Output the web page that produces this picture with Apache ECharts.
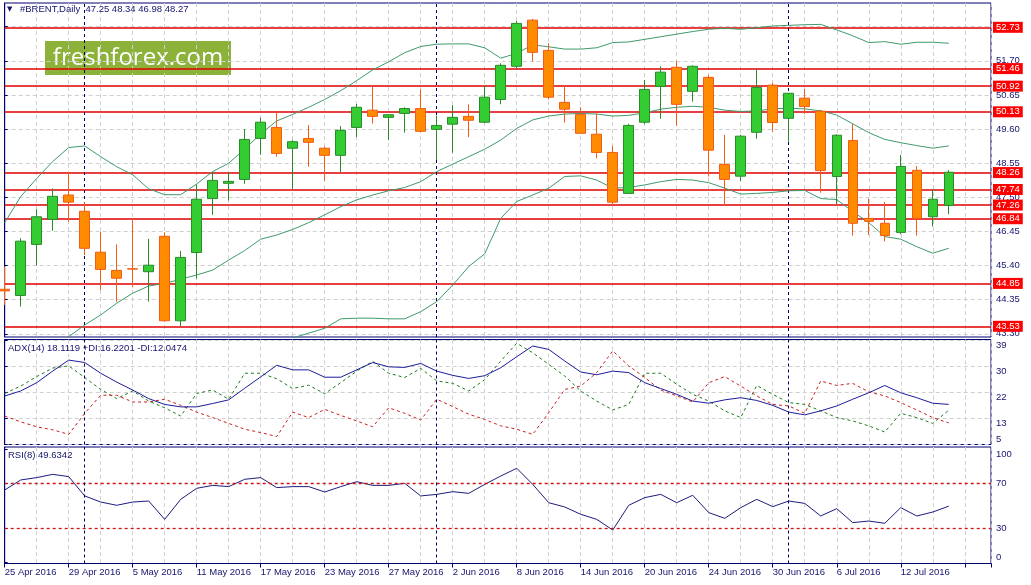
<!DOCTYPE html>
<html>
<head>
<meta charset="utf-8">
<title>#BRENT, Daily</title>
<script src="https://cdn.jsdelivr.net/npm/echarts@6/dist/echarts.min.js"></script>
<style>
  html, body { margin: 0; padding: 0; background: #fff; }
  #chart { width: 1031px; height: 585px; }
</style>
</head>
<body>
<div id="chart"></div>
<script>
// daily bars, 25 Apr - 15 Jul 2016
var dates = [
  '25 Apr 2016', '26 Apr 2016', '27 Apr 2016', '28 Apr 2016', '29 Apr 2016',
  '2 May 2016', '3 May 2016', '4 May 2016', '5 May 2016', '6 May 2016',
  '9 May 2016', '10 May 2016', '11 May 2016', '12 May 2016', '13 May 2016',
  '16 May 2016', '17 May 2016', '18 May 2016', '19 May 2016', '20 May 2016',
  '23 May 2016', '24 May 2016', '25 May 2016', '26 May 2016', '27 May 2016',
  '30 May 2016', '31 May 2016', '1 Jun 2016', '2 Jun 2016', '3 Jun 2016',
  '6 Jun 2016', '7 Jun 2016', '8 Jun 2016', '9 Jun 2016', '10 Jun 2016',
  '13 Jun 2016', '14 Jun 2016', '15 Jun 2016', '16 Jun 2016', '17 Jun 2016',
  '20 Jun 2016', '21 Jun 2016', '22 Jun 2016', '23 Jun 2016', '24 Jun 2016',
  '27 Jun 2016', '28 Jun 2016', '29 Jun 2016', '30 Jun 2016', '1 Jul 2016',
  '4 Jul 2016', '5 Jul 2016', '6 Jul 2016', '7 Jul 2016', '8 Jul 2016',
  '11 Jul 2016', '12 Jul 2016', '13 Jul 2016', '14 Jul 2016', '15 Jul 2016'
];

var opens = [
  44.67, 44.48, 46.05, 46.82, 47.57, 47.07, 45.81, 45.25, 45.30, 45.21,
  46.30, 43.70, 45.80, 47.46, 47.93, 48.05, 49.31, 49.65, 49.01, 49.31,
  49.01, 48.79, 49.65, 50.18, 49.96, 50.08, 50.23, 49.59, 49.75, 49.99,
  49.81, 50.51, 51.53, 52.95, 52.02, 50.42, 50.05, 49.44, 48.88, 47.62,
  49.81, 50.91, 51.50, 50.76, 51.19, 48.51, 48.15, 49.50, 50.95, 49.93,
  50.55, 50.15, 48.14, 49.25, 46.85, 46.70, 46.42, 48.33, 46.90, 47.25
];
var closes = [
  44.62, 46.15, 46.90, 47.53, 47.35, 45.93, 45.28, 45.01, 45.29, 45.41,
  43.70, 45.65, 47.44, 48.02, 47.99, 49.28, 49.81, 48.85, 49.21, 49.19,
  48.79, 49.56, 50.27, 49.99, 50.04, 50.23, 49.53, 49.71, 49.96, 49.87,
  50.58, 51.56, 52.85, 51.96, 50.58, 50.21, 49.47, 48.88, 47.35, 49.71,
  50.82, 51.35, 50.36, 51.53, 48.95, 48.05, 49.38, 50.88, 49.80, 50.70,
  50.29, 48.32, 49.41, 46.70, 46.76, 46.32, 48.45, 46.85, 47.44, 48.27
];
var lows = [
  44.19, 44.14, 45.40, 46.47, 46.75, 45.72, 44.65, 44.28, 44.73, 44.29,
  43.67, 43.54, 45.00, 46.96, 47.40, 47.92, 48.81, 48.75, 47.76, 48.44,
  48.01, 48.27, 49.35, 49.77, 49.26, 49.49, 49.50, 48.65, 48.87, 49.35,
  49.78, 50.36, 51.46, 51.67, 50.51, 49.80, 49.45, 48.70, 47.26, 47.60,
  49.75, 49.92, 49.70, 50.44, 48.14, 47.25, 48.00, 49.30, 49.52, 49.21,
  50.06, 47.64, 47.29, 46.32, 46.34, 46.14, 46.36, 46.32, 46.60, 46.98
];
var highs = [
  45.37, 46.24, 47.13, 47.77, 48.28, 47.34, 46.44, 46.05, 46.85, 46.22,
  46.42, 45.85, 47.90, 48.29, 48.27, 49.60, 49.95, 50.10, 49.26, 49.72,
  49.06, 49.69, 50.37, 50.90, 50.05, 50.27, 50.82, 50.01, 50.33, 50.36,
  50.92, 51.62, 52.92, 52.99, 52.24, 50.95, 50.27, 50.08, 49.08, 49.76,
  51.11, 51.53, 51.69, 51.56, 51.26, 49.42, 49.42, 51.43, 51.02, 50.71,
  50.83, 50.19, 49.44, 49.76, 47.46, 47.36, 48.80, 48.46, 47.75, 48.34
];

// Bollinger bands (upper / middle / lower) as drawn
var bbUpper = [
  46.72, 47.52, 48.08, 48.60, 49.03, 49.08, 48.75, 48.44, 48.19, 47.76,
  47.58, 47.58, 47.91, 48.29, 48.55, 48.98, 49.45, 49.85, 50.05, 50.27,
  50.51, 50.78, 51.09, 51.42, 51.67, 51.95, 52.14, 52.21, 52.22, 52.22,
  52.10, 51.78, 51.93, 52.19, 52.13, 52.06, 52.06, 52.10, 52.26, 52.28,
  52.36, 52.44, 52.52, 52.60, 52.67, 52.70, 52.67, 52.72, 52.77, 52.79,
  52.81, 52.82, 52.65, 52.47, 52.26, 52.29, 52.21, 52.27, 52.27, 52.24
];
var bbMiddle = [
  42.00, 42.35, 42.65, 42.95, 43.21, 43.57, 43.88, 44.24, 44.55, 44.77,
  44.85, 44.98, 45.11, 45.26, 45.57, 45.86, 46.21, 46.34, 46.51, 46.72,
  46.96, 47.21, 47.42, 47.57, 47.70, 47.80, 47.98, 48.29, 48.52, 48.75,
  48.98, 49.26, 49.62, 49.88, 50.00, 50.06, 50.08, 50.06, 50.00, 50.02,
  50.10, 50.21, 50.27, 50.30, 50.27, 50.18, 50.14, 50.16, 50.22, 50.24,
  50.22, 50.16, 50.03, 49.76, 49.49, 49.28, 49.18, 49.09, 49.01, 49.08
];
var bbLower = [
  37.40, 37.20, 37.20, 37.30, 37.40, 38.60, 39.00, 40.00, 40.90, 41.80,
  42.10, 42.40, 42.30, 42.25, 42.60, 42.75, 42.90, 43.00, 43.17, 43.32,
  43.47, 43.76, 43.78, 43.78, 43.76, 43.76, 43.98, 44.29, 44.80, 45.37,
  45.76, 46.85, 47.37, 47.57, 47.78, 48.14, 48.16, 48.03, 47.78, 47.80,
  47.88, 47.98, 48.05, 48.03, 47.95, 47.78, 47.60, 47.62, 47.65, 47.70,
  47.71, 47.46, 47.43, 47.06, 46.72, 46.29, 46.21, 45.98, 45.78, 45.93
];

// ADX(14)
var adx = [
  20.86, 22.5, 25.2, 29.0, 32.6, 31.8, 28.3, 25.4, 22.8, 20.0,
  18.1, 17.3, 17.3, 18.4, 19.6, 23.4, 27.1, 30.9, 29.4, 29.4,
  27.0, 27.0, 29.4, 31.8, 30.4, 30.2, 31.5, 29.0, 27.6, 26.6,
  27.5, 30.1, 33.7, 37.2, 36.1, 32.3, 28.7, 27.8, 29.0, 28.5,
  25.2, 23.3, 21.4, 19.2, 18.5, 19.6, 20.3, 19.4, 17.8, 15.6,
  14.7, 16.0, 17.6, 19.8, 21.9, 24.3, 21.9, 20.3, 18.5, 18.11
];
var plusDi = [
  21.7, 24.1, 27.2, 30.0, 30.7, 26.9, 23.0, 20.0, 22.5, 19.2,
  17.0, 14.3, 21.7, 22.8, 19.8, 28.3, 28.3, 26.5, 23.3, 24.4,
  21.6, 25.2, 29.0, 32.2, 28.3, 26.9, 29.9, 25.8, 25.0, 22.5,
  26.2, 32.3, 38.1, 35.0, 31.2, 27.4, 22.5, 19.2, 16.3, 18.1,
  28.3, 28.3, 24.7, 21.4, 19.2, 16.0, 13.8, 24.3, 21.4, 18.7,
  18.1, 16.0, 13.8, 12.7, 11.1, 9.1, 15.2, 13.8, 11.9, 16.22
];
var minusDi = [
  14.3, 12.4, 10.8, 9.8, 8.3, 15.2, 21.1, 21.1, 18.9, 18.9,
  19.8, 17.8, 15.6, 13.8, 11.9, 10.0, 8.9, 7.6, 15.6, 13.8,
  16.5, 14.5, 12.7, 10.8, 17.0, 15.2, 13.0, 19.8, 17.4, 14.9,
  13.2, 11.1, 10.0, 8.3, 15.4, 23.0, 24.1, 28.5, 35.6, 30.7,
  26.9, 22.8, 20.9, 18.9, 25.2, 27.2, 24.1, 20.9, 18.1, 17.6,
  15.2, 25.8, 24.3, 25.0, 22.2, 20.9, 18.7, 16.3, 13.8, 12.05
];

// RSI(8)
var rsi = [
  64.0, 72.9, 75.0, 77.9, 75.9, 58.7, 53.3, 50.4, 53.3, 54.2,
  37.9, 55.7, 65.5, 68.1, 67.0, 73.5, 75.0, 66.1, 67.0, 67.0,
  62.2, 67.0, 71.4, 68.1, 68.1, 69.9, 58.7, 60.1, 62.5, 61.0,
  69.0, 76.4, 83.3, 69.0, 52.7, 48.9, 42.4, 37.9, 28.4, 50.4,
  57.2, 60.1, 52.7, 59.3, 43.9, 38.8, 48.3, 55.7, 49.2, 54.2,
  52.1, 40.9, 47.4, 35.0, 36.4, 34.4, 48.3, 40.9, 44.4, 49.63
];

// horizontal price levels drawn on the chart
var levels = [52.73, 51.46, 50.92, 50.13, 48.26, 47.74, 47.26, 46.84, 44.85, 43.53];
var rsiLevels = [70, 30];

// tick labels
var priceTicks = [43.30, 44.35, 45.40, 46.45, 47.50, 48.55, 49.60, 50.65, 51.70, 52.75];
var adxTicks = [5, 13.5, 22, 30.5, 39];
var rsiTicks = [0, 30, 70, 100];

var NAVY = '#000070';
var TXT = '#14146e';
var GRID = '#cfcfcf';
var FONT = 'Liberation Sans';
var last = dates.length - 1;
var XMAX = 61.64;

// first bar of each month -> period separators
var monthStarts = [];
for (var i = 1; i < dates.length; i++) {
  if (dates[i].split(' ')[1] !== dates[i - 1].split(' ')[1]) monthStarts.push(i);
}
var sepLines = monthStarts.map(function (i) {
  return { xAxis: i, lineStyle: { color: '#000060', type: [3, 3], width: 1 }, label: { show: false } };
});

function pts(arr) {
  return arr.map(function (v, i) { return [i, v]; });
}

function splitX(gi) {
  return {
    type: 'value', gridIndex: gi, min: 0, max: XMAX, interval: 2, position: 'bottom',
    axisLine: { show: false }, axisTick: { show: false }, axisLabel: { show: false },
    splitLine: { show: true, lineStyle: { color: GRID, type: [4, 3], width: 1 } }
  };
}

var chart = echarts.init(document.getElementById('chart'), null, { renderer: 'canvas' });

chart.setOption({
  animation: false,
  backgroundColor: '#ffffff',
  textStyle: { fontFamily: FONT },
  title: [
    { text: '▼', left: 7, top: 6, padding: 0, textStyle: { fontSize: 7, color: TXT, fontWeight: 'normal', fontFamily: 'DejaVu Sans' } },
    {
      text: '#BRENT,Daily  ' + [opens[last], highs[last], lows[last], closes[last]].map(function (v) { return v.toFixed(2); }).join(' '),
      left: 20, top: 4.5, padding: 0,
      textStyle: { fontSize: 9.5, color: TXT, fontWeight: 'normal', fontFamily: FONT }
    },
    { text: 'ADX(14) 18.1119 +DI:16.2201 -DI:12.0474', left: 8, top: 343.5, padding: 0,
      textStyle: { fontSize: 9.5, color: TXT, fontWeight: 'normal', fontFamily: FONT } },
    { text: 'RSI(8) 49.6342', left: 8, top: 450.5, padding: 0,
      textStyle: { fontSize: 9.5, color: TXT, fontWeight: 'normal', fontFamily: FONT } }
  ],
  graphic: [{
    type: 'group', left: 45, top: 41, z: 20,
    children: [
      { type: 'rect', shape: { x: 0, y: 0, width: 186, height: 34 }, style: { fill: '#8db23a' } },
      { type: 'text', x: 93, y: 17, style: { text: 'freshforex.com', fill: '#ffffff', fontSize: 24, fontFamily: 'Open Sans', align: 'center', verticalAlign: 'middle' } }
    ]
  }],
  grid: [
    { left: 4.7, right: 40, top: 3, height: 334, show: true, borderColor: NAVY, borderWidth: 1 },
    { left: 4.7, right: 40, top: 339.5, height: 105, show: true, borderColor: NAVY, borderWidth: 1 },
    { left: 4.7, right: 40, top: 447, height: 116.5, show: true, borderColor: NAVY, borderWidth: 1 }
  ],
  xAxis: [
    splitX(0),
    splitX(1),
    splitX(2),
    {
      type: 'value', gridIndex: 2, min: 0, max: XMAX, interval: 4, position: 'bottom',
      axisLine: { show: true, lineStyle: { color: NAVY, width: 1 } },
      axisTick: { show: true, length: 4, lineStyle: { color: NAVY } },
      splitLine: { show: false },
      axisLabel: {
        show: true, align: 'left', margin: 4, fontSize: 9.5, color: TXT, fontFamily: FONT,
        formatter: function (v) { return (v % 4 === 0 && dates[v]) ? dates[v] : ''; }
      }
    }
  ],
  yAxis: [
    {
      type: 'value', gridIndex: 0, position: 'right', min: 43.201, max: 53.478,
      axisLine: { show: true, lineStyle: { color: NAVY } },
      axisTick: { show: true, length: 3, inside: false, customValues: priceTicks, lineStyle: { color: NAVY } },
      axisLabel: { customValues: priceTicks, margin: 5, fontSize: 9.5, color: TXT, fontFamily: FONT,
        formatter: function (v) { return v.toFixed(2); } },
      splitLine: { show: true, lineStyle: { color: GRID, type: [4, 3] } }
    },
    {
      type: 'value', gridIndex: 1, position: 'right', min: 5.0, max: 39.33,
      axisLine: { show: true, lineStyle: { color: NAVY } },
      axisTick: { show: true, length: 3, customValues: adxTicks, lineStyle: { color: NAVY } },
      axisLabel: { customValues: adxTicks, margin: 5, fontSize: 9.5, color: TXT, fontFamily: FONT,
        verticalAlign: 'top', verticalAlignMinLabel: 'bottom',
        formatter: function (v) { return String(Math.floor(v)); } },
      splitLine: { show: true, lineStyle: { color: GRID, type: [4, 3] } }
    },
    {
      type: 'value', gridIndex: 2, position: 'right', min: -1.33, max: 102.2,
      axisLine: { show: true, lineStyle: { color: NAVY } },
      axisTick: { show: true, length: 3, customValues: rsiTicks, lineStyle: { color: NAVY } },
      axisLabel: { customValues: rsiTicks, margin: 5, fontSize: 9.5, color: TXT, fontFamily: FONT,
        verticalAlignMinLabel: 'bottom', verticalAlignMaxLabel: 'top',
        formatter: function (v) { return String(v); } },
      splitLine: { show: false }
    }
  ],
  series: [
    {
      name: 'BB upper', type: 'line', xAxisIndex: 0, yAxisIndex: 0, z: 2, silent: true,
      symbol: 'none', data: pts(bbUpper), lineStyle: { color: '#3f9a6c', width: 1 },
      markLine: {
        z: 1, silent: true, symbol: ['none', 'none'],
        lineStyle: { color: '#e00000', width: 1.5, type: 'solid' },
        label: {
          show: true, position: 'end', distance: 2, color: '#ffffff', backgroundColor: '#ff0000',
          fontSize: 9.5, fontFamily: FONT, padding: [1, 3, 0, 3], lineHeight: 10,
          formatter: function (p) { return p.value.toFixed(2); }
        },
        data: levels.map(function (v) { return { yAxis: v }; }).concat(sepLines)
      }
    },
    { name: 'BB middle', type: 'line', xAxisIndex: 0, yAxisIndex: 0, z: 2, silent: true,
      symbol: 'none', data: pts(bbMiddle), lineStyle: { color: '#3f9a6c', width: 1 } },
    { name: 'BB lower', type: 'line', xAxisIndex: 0, yAxisIndex: 0, z: 2, silent: true,
      symbol: 'none', data: pts(bbLower), lineStyle: { color: '#3f9a6c', width: 1 } },
    {
      name: '#BRENT', type: 'candlestick', xAxisIndex: 0, yAxisIndex: 0, z: 3, silent: true,
      barWidth: 10,
      data: dates.map(function (d, i) { return [i, opens[i], closes[i], lows[i], highs[i]]; }),
      itemStyle: { color: '#33cc33', color0: '#ff8c00', borderColor: '#2a8a2a', borderColor0: '#f25c14', borderWidth: 1 }
    },
    {
      name: 'ADX', type: 'line', xAxisIndex: 1, yAxisIndex: 1, z: 3, silent: true,
      symbol: 'none', data: pts(adx), lineStyle: { color: '#1c1c9c', width: 1 },
      markLine: { silent: true, symbol: ['none', 'none'], label: { show: false }, data: sepLines }
    },
    { name: '+DI', type: 'line', xAxisIndex: 1, yAxisIndex: 1, z: 2, silent: true,
      symbol: 'none', data: pts(plusDi), lineStyle: { color: '#1e7a1e', width: 1, type: [3, 3] } },
    { name: '-DI', type: 'line', xAxisIndex: 1, yAxisIndex: 1, z: 2, silent: true,
      symbol: 'none', data: pts(minusDi), lineStyle: { color: '#cc2020', width: 1, type: [3, 3] } },
    {
      name: 'RSI', type: 'line', xAxisIndex: 2, yAxisIndex: 2, z: 3, silent: true,
      symbol: 'none', data: pts(rsi), lineStyle: { color: '#1c1c7c', width: 1 },
      markLine: {
        silent: true, symbol: ['none', 'none'], label: { show: false },
        data: rsiLevels.map(function (v) {
          return { yAxis: v, lineStyle: { color: '#d01414', width: 1.3, type: [3, 3] } };
        }).concat(sepLines)
      }
    }
  ]
});
</script>
</body>
</html>
